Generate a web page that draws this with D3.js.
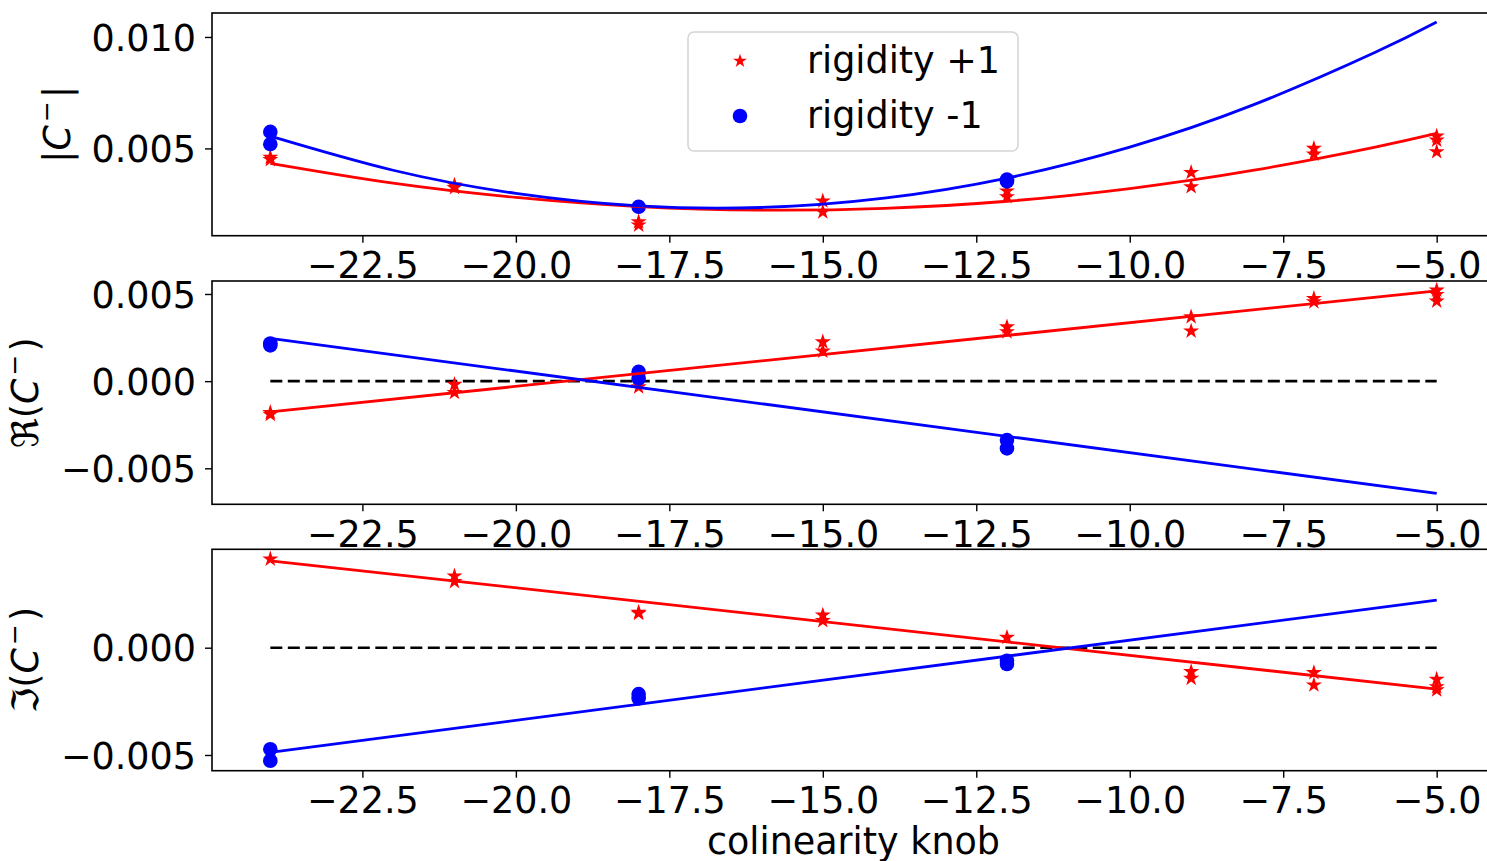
<!DOCTYPE html>
<html>
<head>
<meta charset="utf-8">
<script src="https://cdn.jsdelivr.net/npm/d3@7"></script>
<style>
  body { margin: 0; background: #fff; }
  svg text { font-family: "DejaVu Sans", sans-serif; }
</style>
</head>
<body>
<svg id="chart" width="1487" height="861"></svg>
<script>
// data
const xTicks = [-22.5, -20, -17.5, -15, -12.5, -10, -7.5, -5];

// |C-|
const absPlus = [[-24,0.0045],[-24,0.0046],[-21,0.00324],[-21,0.00335],[-18,0.00171],[-18,0.00156],
  [-15,0.00264],[-15,0.00215],[-12,0.00309],[-12,0.00283],[-9,0.00392],[-9,0.00328],
  [-7,0.0050],[-7,0.00474],[-5,0.00555],[-5,0.00537],[-5,0.00485]];
const absMinus = [[-24,0.00574],[-24,0.00519],[-18,0.00238],[-12,0.0036],[-12,0.00352]];
const absFitPlus = [[-24,0.00433],[-22,0.00344],[-20,0.00280],[-18,0.00239],[-16,0.00223],[-14,0.00231],
  [-12,0.00263],[-10,0.00320],[-8,0.00401],[-6,0.00506],[-5,0.00567]];
const absFitMinus = [[-24,0.00555],[-22,0.00402],[-20,0.00298],[-18,0.00242],[-16,0.00235],[-14,0.00277],
  [-12,0.00367],[-10,0.00506],[-8,0.00694],[-6,0.00931],[-5,0.01067]];
const absTicks = [0.005, 0.010];

// Re(C-)
const rePlus = [[-24,-0.00191],[-24,-0.0018],[-21,-0.00019],[-21,-0.00065],[-18,-0.00033],
  [-15,0.00225],[-15,0.00172],[-12,0.00311],[-12,0.00283],[-9,0.00369],[-9,0.00287],
  [-7,0.00474],[-7,0.00455],[-5,0.00522],[-5,0.00497],[-5,0.00459]];
const reMinus = [[-24,0.00216],[-24,0.00205],[-18,0.00053],[-18,0.00015],[-12,-0.00338],[-12,-0.00386]];
const reFitPlus = [[-24,-0.00176],[-5,0.00518]];
const reFitMinus = [[-24,0.00245],[-5,-0.00644]];
const reTicks = [-0.005, 0, 0.005];

// Im(C-)
const imPlus = [[-24,0.00413],[-21,0.00334],[-21,0.00308],[-18,0.00165],[-18,0.0016],
  [-15,0.00152],[-15,0.00126],[-12,0.00048],[-9,-0.00112],[-9,-0.00143],
  [-7,-0.00116],[-7,-0.00174],[-5,-0.00147],[-5,-0.00182],[-5,-0.00197]];
const imMinus = [[-24,-0.00473],[-24,-0.00527],[-18,-0.00216],[-18,-0.00236],[-12,-0.00061],[-12,-0.00076]];
const imFitPlus = [[-24,0.00405],[-5,-0.00193]];
const imFitMinus = [[-24,-0.00488],[-5,0.00222]];
const imTicks = [-0.005, 0];

const zeroLine = [[-24,0],[-5,0]];

const RED = "#ff0000", BLUE = "#0000ff";
const FS = 36.5;
const svg = d3.select("#chart");
const left = 212, right = 1495;
const x = d3.scaleLinear().domain([-24.95, -4.05]).range([left, right]);
const fmt = v => d3.format(".3f")(v).replace("-", "\u2212");
const fmtX = v => d3.format(".1f")(v).replace("-", "\u2212");

const star = d3.symbol().type(d3.symbolStar).size(80);

function panel(cfg) {
  const y = d3.scaleLinear().domain(cfg.domain).range([cfg.bottom, cfg.top]);
  const g = svg.append("g");
  g.append("rect").attr("x", left).attr("y", cfg.top)
    .attr("width", right - left).attr("height", cfg.bottom - cfg.top).attr("fill", "#fff");

  const clip = "clip" + cfg.id;
  g.append("clipPath").attr("id", clip).append("rect")
    .attr("x", left).attr("y", cfg.top).attr("width", right - left).attr("height", cfg.bottom - cfg.top);
  const plot = g.append("g").attr("clip-path", `url(#${clip})`);

  const line = d3.line().x(d => x(d[0])).y(d => y(d[1])).curve(d3.curveNatural);

  if (cfg.zero) {
    plot.append("path").datum(zeroLine).attr("d", line).attr("fill", "none")
      .attr("stroke", "#000").attr("stroke-width", 2.6).attr("stroke-dasharray", "12,5.5");
  }

  plot.selectAll(".plus").data(cfg.plus).join("path")
    .attr("transform", d => `translate(${x(d[0])},${y(d[1])})`)
    .attr("d", star).attr("fill", RED);
  plot.selectAll(".minus").data(cfg.minus).join("circle")
    .attr("cx", d => x(d[0])).attr("cy", d => y(d[1])).attr("r", 7.3).attr("fill", BLUE);

  plot.append("path").datum(cfg.fitPlus).attr("d", line).attr("fill", "none")
    .attr("stroke", RED).attr("stroke-width", 2.8);
  plot.append("path").datum(cfg.fitMinus).attr("d", line).attr("fill", "none")
    .attr("stroke", BLUE).attr("stroke-width", 2.8);

  // axes
  const ax = g.append("g").attr("transform", `translate(0,${cfg.bottom})`)
    .call(d3.axisBottom(x).tickValues(xTicks).tickFormat(fmtX).tickSize(7).tickPadding(9));
  const ay = g.append("g").attr("transform", `translate(${left},0)`)
    .call(d3.axisLeft(y).tickValues(cfg.ticks).tickFormat(fmt).tickSize(7).tickPadding(9));
  [ax, ay].forEach(a => {
    a.select(".domain").remove();
    a.selectAll("line").attr("stroke", "#000").attr("stroke-width", 1.4);
    a.selectAll("text").attr("font-size", FS).attr("fill", "#000")
      .attr("font-family", "DejaVu Sans");
  });
  ay.selectAll("text").attr("dy", "0.36em");
  ax.selectAll("text").attr("dy", "0.72em");

  g.append("rect").attr("x", left).attr("y", cfg.top)
    .attr("width", right - left).attr("height", cfg.bottom - cfg.top)
    .attr("fill", "none").attr("stroke", "#000").attr("stroke-width", 1.6);

  // y label
  const lab = g.append("text")
    .attr("transform", `translate(${cfg.labelX},${(cfg.top + cfg.bottom) / 2}) rotate(-90)`)
    .attr("text-anchor", "middle").attr("font-size", FS).attr("fill", "#000");
  lab.append("tspan").text(cfg.pre);
  lab.append("tspan").attr("font-style", "italic").text("C");
  lab.append("tspan").attr("font-size", 25).attr("dx", 3).attr("dy", -15).text("\u2212");
  lab.append("tspan").attr("dx", 3).attr("dy", 15).text(cfg.post);
  return g;
}

panel({id: 1, top: 13, bottom: 235.7, domain: [0.001084, 0.011075],
  plus: absPlus, minus: absMinus, fitPlus: absFitPlus, fitMinus: absFitMinus,
  ticks: absTicks, zero: false, labelX: 70, pre: "|", post: "|"});
panel({id: 2, top: 281, bottom: 504.3, domain: [-0.007064, 0.005745],
  plus: rePlus, minus: reMinus, fitPlus: reFitPlus, fitMinus: reFitMinus,
  ticks: reTicks, zero: true, labelX: 38, pre: "\u211C(", post: ")"});
panel({id: 3, top: 549.3, bottom: 770.7, domain: [-0.005732, 0.004585],
  plus: imPlus, minus: imMinus, fitPlus: imFitPlus, fitMinus: imFitMinus,
  ticks: imTicks, zero: true, labelX: 38, pre: "\u2111(", post: ")"});

// x label
svg.append("text").attr("x", (left + right) / 2).attr("y", 854)
  .attr("text-anchor", "middle").attr("font-size", FS).attr("fill", "#000")
  .text("colinearity knob");

// legend (top panel)
const leg = svg.append("g");
leg.append("rect").attr("x", 688).attr("y", 32).attr("width", 330).attr("height", 119)
  .attr("rx", 6).attr("fill", "#fff").attr("fill-opacity", 0.8)
  .attr("stroke", "#d4d4d4").attr("stroke-width", 1.5);
const legItems = [
  {label: "rigidity +1", kind: "star", color: RED, y: 61},
  {label: "rigidity -1", kind: "circle", color: BLUE, y: 116}
];
legItems.forEach(it => {
  if (it.kind === "star") {
    leg.append("path").attr("transform", `translate(740,${it.y})`)
      .attr("d", d3.symbol().type(d3.symbolStar).size(60)()).attr("fill", it.color);
  } else {
    leg.append("circle").attr("cx", 740).attr("cy", it.y).attr("r", 7.3).attr("fill", it.color);
  }
  leg.append("text").attr("x", 807).attr("y", it.y + 12).attr("font-size", FS)
    .attr("fill", "#000").text(it.label);
});
</script>
</body>
</html>
